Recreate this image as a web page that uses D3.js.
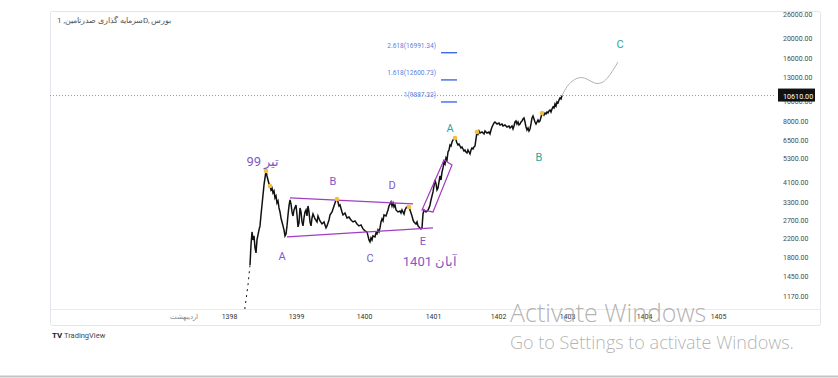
<!DOCTYPE html>
<html>
<head>
<meta charset="utf-8">
<script src="https://cdn.jsdelivr.net/npm/d3@7"></script>
<style>
  html, body { margin: 0; padding: 0; background: #fff; }
  svg { display: block; font-family: Roboto, "Noto Sans", sans-serif; }
</style>
</head>
<body>
<svg id="chart" width="838" height="378"></svg>
<script>
// Series are [bar index, price]; bar 0 ~ start of 1398
const priceLead = [[48,952],[56,1123],[64,1324],[72,1649]];

const priceSeries = [
  [72,1649],[76,2054],[80,2370],[84,2170],[88,2268],[92,1988],[96,1882],[100,2170],[104,2294],[108,2423],
  [112,2532],[116,2856],[120,3188],[124,3558],[128,3972],[132,4289],[136,4632],[140,4384],[144,4196],[148,4016],
  [152,3928],[156,3759],[160,3843],[164,3637],[168,3718],[172,3443],[176,3519],[180,3259],[184,3331],[188,3085],
  [192,2952],[196,2763],[200,2645],[204,2532],[208,2423],[212,2268],[216,2319],[220,2532],[224,2856],[228,3153],
  [232,3368],[236,3223],[240,2952],[244,2825],[248,3017],[256,3188],[260,2856],[264,2504],[268,2616],[272,3085],
  [276,2952],[280,2645],[284,2532],[288,2763],[292,2952],[296,3017],[300,2825],[304,3153],[308,2952],[312,2645],
  [316,2532],[320,2763],[324,2887],[332,2733],[340,2645],[344,2825],[352,2675],[360,2588],[368,2645],[376,2477],
  [380,2532],[388,2704],[392,2856],[400,2952],[408,3153],[416,3368],[420,3405],[424,3295],[428,3153],[432,3188],
  [440,2952],[444,2856],[452,2919],[460,2763],[468,2794],[476,2704],[484,2645],[492,2675],[500,2588],[508,2532],
  [516,2560],[524,2450],[532,2397],[540,2370],[544,2268],[548,2170],[552,2123],[556,2219],[560,2170],[564,2268],
  [572,2244],[576,2344],[580,2319],[584,2423],[588,2370],[592,2477],[596,2645],[600,2733],[604,2675],[608,2856],
  [616,2825],[620,2919],[624,3017],[628,3153],[632,3223],[636,3295],[640,3153],[644,3259],[648,3119],[652,3188],
  [656,3017],[664,2952],[672,2984],[676,2919],[680,3017],[688,2887],[692,3017],[696,3085],[700,3119],[704,3153],
  [708,3119],[712,3017],[716,2919],[720,2825],[724,2704],[728,2645],[736,2588],[740,2645],[744,2532],[752,2477],
  [756,2450],[760,2477],[764,2887],[768,3017],[776,2952],[784,3017],[788,3085],[792,3188],[796,3368],[800,3519],
  [804,3677],[808,3928],[812,4196],[816,4016],[820,3759],[824,3843],[828,4105],[832,4384],[836,4196],[840,4581],
  [844,4787],[848,5113],[852,5001],[856,5342],[860,5226],[864,5707],[868,5834],[872,6163],[876,6096],[880,6370],
  [884,6511],[888,6583],[892,6655],[896,6511],[900,6300],[904,6163],[908,6231],[912,6096],[916,5963],[920,6029],
  [924,5898],[928,5770],[932,5834],[936,5707],[940,5645],[944,5834],[948,5707],[952,5583],[956,5834],[960,5963],
  [964,5898],[968,6029],[972,6096],[980,7109],[984,6955],[988,7188],[992,7031],[1000,7109],[1008,6955],[1012,7188],
  [1020,7031],[1028,7109],[1032,6955],[1036,7267],[1040,7512],[1044,7679],[1048,7849],[1052,7936],[1060,7763],[1068,7849],
  [1072,7679],[1080,7763],[1084,7594],[1092,7679],[1100,7512],[1108,7594],[1112,7430],[1116,7512],[1120,7594],[1124,7349],
  [1128,7594],[1132,7936],[1136,8024],[1140,7763],[1144,7936],[1148,7679],[1152,7763],[1156,7936],[1160,8024],[1164,8201],
  [1168,8292],[1172,7936],[1176,7512],[1180,7267],[1184,7430],[1188,7188],[1192,7349],[1196,7763],[1200,8292],[1204,8476],
  [1208,8201],[1212,7936],[1216,7763],[1220,7936],[1224,8112],[1228,7936],[1232,8024],[1236,8384],[1240,8665],[1244,8761],
  [1248,8571],[1252,8761],[1256,8665],[1260,8857],[1264,8761],[1268,8955],[1272,9054],[1276,8857],[1280,9154],[1284,9358],
  [1288,9256],[1292,9672],[1296,9461],[1300,9887],[1304,9779],[1308,10106],[1312,10330],[1316,10217],[1320,10610]
];

const pivotDots = [[136,4632],[152,3928],[420,3405],[708,3119],[892,6655],[980,7109],[1240,8761]];

// Elliott wave drawings
const triangleUpper = [[232,3443],[724,3223]];
const triangleLower = [[220,2244],[804,2477]];
const channelBox = [[760,3017],[804,2952],[880,4947],[848,5226]];
const projectionPath = [[1320,10610],[1340,11786],[1360,12451],[1380,12868],[1400,13000],[1420,12727],
  [1440,12315],[1460,12048],[1480,12180],[1500,12727],[1520,13746],[1544,15343]];

const fibRatios = ["2.618", "1.618", "1"];
const fibPrices = [16991.34, 12600.73, 9887.33];

const purpleLabels = [["A",200,1820],["B",404,4150],["C",552,1781],["D",640,3972],["E",764,2146]];
const tealLabels = [["A",872,7430],["B",1228,5401],["C",1552,18699]];
const dateNotes = [["تیر 99",124,5169],["آبان 1401",792,1723]];

const priceTicks = [1170,1450,1800,2200,2700,3300,4100,5300,6500,8000,10000,13000,16000,20000,26000];
const timeTicks = [-196,-12,256,528,804,1064,1340,1648,1944];
const timeLabels = ["اردیبهشت","1398","1399","1400","1401","1402","1403","1404","1405"];
const lastPrice = 10610;
const title = "سرمایه گذاری صدرتامین, 1D, بورس";

const svg = d3.select("#chart");
const frame = {left: 50, top: 11, right: 820, bottom: 325};
const plot = {left: 50, top: 9, right: 776, bottom: 309};

const x = d3.scaleLinear().domain([-728, 2176]).range([plot.left, plot.right]);
const y = d3.scaleLog().domain([1016, 27470]).range([plot.bottom, plot.top]);

const defs = svg.append("defs");
defs.append("clipPath").attr("id", "plotClip")
  .append("rect").attr("x", plot.left).attr("y", frame.top)
  .attr("width", plot.right - plot.left).attr("height", plot.bottom - frame.top);
defs.append("clipPath").attr("id", "frameClip")
  .append("rect").attr("x", frame.left).attr("y", frame.top)
  .attr("width", frame.right - frame.left).attr("height", frame.bottom - frame.top);

// Frame
svg.append("rect")
  .attr("x", frame.left + 0.5).attr("y", frame.top + 0.5)
  .attr("width", frame.right - frame.left).attr("height", frame.bottom - frame.top)
  .attr("rx", 2).attr("fill", "none").attr("stroke", "#e3e5ea");
svg.append("line")
  .attr("x1", frame.left).attr("x2", frame.right + 0.5)
  .attr("y1", plot.bottom + 0.5).attr("y2", plot.bottom + 0.5)
  .attr("stroke", "#e8eaee");

svg.append("text")
  .attr("x", 57).attr("y", 23)
  .attr("font-size", 8).attr("fill", "#555")
  .text(title);

const g = svg.append("g").attr("clip-path", "url(#plotClip)");
const line = d3.line().x(d => x(d[0])).y(d => y(d[1]));

// Last price dotted line
g.append("line")
  .attr("x1", plot.left).attr("x2", plot.right)
  .attr("y1", y(lastPrice)).attr("y2", y(lastPrice))
  .attr("stroke", "#9a9a9a").attr("stroke-dasharray", "1,2");

// Price
g.append("path").datum(priceLead)
  .attr("d", line).attr("fill", "none")
  .attr("stroke", "#111").attr("stroke-width", 1).attr("stroke-dasharray", "2,4");
g.append("path").datum(priceSeries)
  .attr("d", line).attr("fill", "none")
  .attr("stroke", "#111").attr("stroke-width", 1.5).attr("stroke-linejoin", "miter");

// Triangle and channel
[triangleUpper, triangleLower].forEach(seg => {
  g.append("path").datum(seg).attr("d", line)
    .attr("stroke", "#a13cc4").attr("stroke-width", 1.2).attr("fill", "none");
});
g.append("path").datum(channelBox)
  .attr("d", d => line(d) + "Z")
  .attr("stroke", "#a13cc4").attr("stroke-width", 1.2).attr("fill", "none");

// Projected path
g.append("path").datum(projectionPath)
  .attr("d", d3.line().x(d => x(d[0])).y(d => y(d[1])).curve(d3.curveBasis))
  .attr("fill", "none").attr("stroke", "#a9a9a9").attr("stroke-width", 0.9);

g.selectAll(".pivot").data(pivotDots).enter().append("circle")
  .attr("class", "pivot")
  .attr("cx", d => x(d[0])).attr("cy", d => y(d[1])).attr("r", 2.3)
  .attr("fill", "#f3c03b");

// Fibonacci targets
fibPrices.forEach((p, i) => {
  g.append("line")
    .attr("x1", x(836)).attr("x2", x(900))
    .attr("y1", y(p)).attr("y2", y(p))
    .attr("stroke", "#3f6be6").attr("stroke-width", 1.4);
  g.append("text")
    .attr("x", x(816)).attr("y", y(p) - 5)
    .attr("text-anchor", "end").attr("font-size", 6.6).attr("fill", "#5b7fe0")
    .text(`${fibRatios[i]}(${p.toFixed(2)})`);
});

// Wave labels
g.selectAll(".wp").data(purpleLabels).enter().append("text")
  .attr("x", d => x(d[1])).attr("y", d => y(d[2]) + 4)
  .attr("text-anchor", "middle").attr("font-size", 11).attr("fill", "#8158c9")
  .text(d => d[0]);
g.selectAll(".wt").data(tealLabels).enter().append("text")
  .attr("x", d => x(d[1])).attr("y", d => y(d[2]) + 4)
  .attr("text-anchor", "middle").attr("font-size", 11).attr("fill", "#2fa59b")
  .text(d => d[0]);
g.selectAll(".dn").data(dateNotes).enter().append("text")
  .attr("x", d => x(d[1])).attr("y", d => y(d[2]) + 5)
  .attr("text-anchor", "middle").attr("font-size", 13).attr("fill", "#8158c9")
  .text(d => d[0]);

// Price axis (clip wrapper keeps the top label cut by the frame)
const yAxis = svg.append("g").attr("clip-path", "url(#frameClip)")
  .append("g")
  .attr("transform", `translate(${plot.right + 7},0)`)
  .call(d3.axisRight(y).tickValues(priceTicks).tickFormat(d3.format(".2f")).tickSize(0).tickPadding(0));
yAxis.select(".domain").remove();
yAxis.selectAll("text").attr("font-size", 7).attr("fill", "#4a4a4a").attr("font-family", "Roboto, sans-serif");

// Last price tag
const tag = svg.append("g").attr("transform", `translate(${plot.right + 2},${y(lastPrice)})`);
tag.append("rect").attr("x", 0).attr("y", -7).attr("width", 37).attr("height", 13).attr("fill", "#111");
tag.append("text").attr("x", 5).attr("y", 3)
  .attr("font-size", 7.2).attr("fill", "#fff").text(d3.format(".2f")(lastPrice));

// Time axis
const xAxis = svg.append("g")
  .attr("transform", `translate(0,${plot.bottom})`)
  .call(d3.axisBottom(x).tickValues(timeTicks).tickFormat((d, i) => timeLabels[i]).tickSize(0).tickPadding(5));
xAxis.select(".domain").remove();
xAxis.selectAll("text").attr("font-size", 7).attr("font-family", "Roboto, sans-serif")
  .attr("fill", (d, i) => i === 0 ? "#888" : "#333");

// TradingView credit
svg.append("text").attr("x", 52).attr("y", 338)
  .attr("font-size", 8).attr("font-weight", "bold").attr("fill", "#131722").text("TV");
svg.append("text").attr("x", 64).attr("y", 338)
  .attr("font-size", 7.5).attr("fill", "#444").text("TradingView");

// Screen overlay text
svg.append("text").attr("x", 510).attr("y", 322)
  .attr("font-family", "'Open Sans', 'Noto Sans', sans-serif").attr("font-weight", 300)
  .attr("font-size", 25).attr("fill", "#a0a0a0").attr("fill-opacity", 0.8).text("Activate Windows");
svg.append("text").attr("x", 510).attr("y", 349)
  .attr("font-family", "'Open Sans', 'Noto Sans', sans-serif").attr("font-weight", 300)
  .attr("font-size", 18).attr("fill", "#a0a0a0").attr("fill-opacity", 0.8).text("Go to Settings to activate Windows.");

svg.append("line").attr("x1", 0).attr("x2", 838).attr("y1", 376.5).attr("y2", 376.5)
  .attr("stroke", "#c4c4c4").attr("stroke-width", 2);
</script>
</body>
</html>
